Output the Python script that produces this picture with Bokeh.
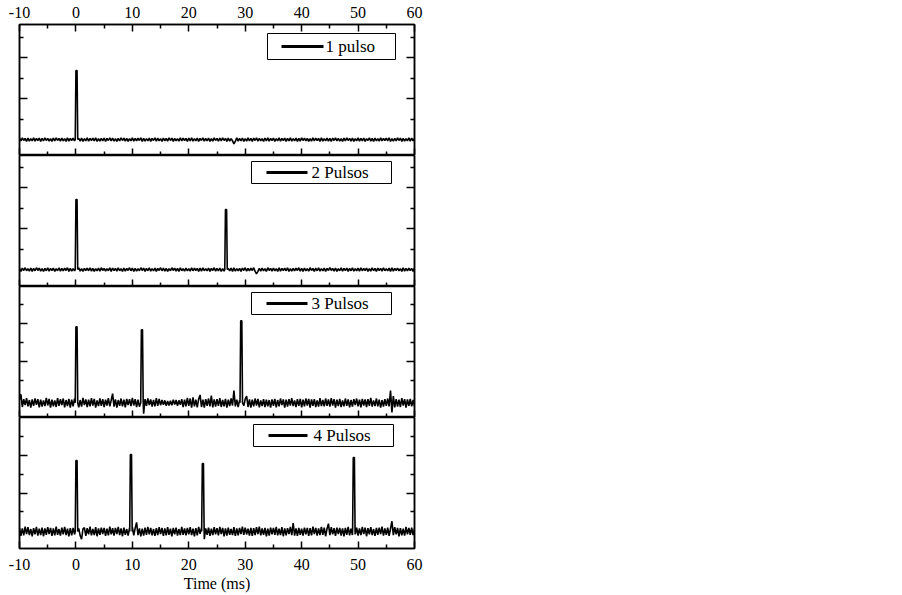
import numpy as np
from bokeh.plotting import figure
from bokeh.models import Range1d, LinearAxis, FixedTicker, BoxAnnotation, Label
from bokeh.layouts import column
from bokeh.embed import file_html
from bokeh.resources import INLINE

# ---------------- data ----------------
X_TICKS = [-10, 0, 10, 20, 30, 40, 50, 60]
X_TICK_LABELS = ["-10", "0", "10", "20", "30", "40", "50", "60"]
X_MINOR = [-5, 5, 15, 25, 35, 45, 55]
Y_MAJOR = [2, 4]
Y_MINOR = [1, 3, 5]
X_LABEL = "Time (ms)"
SERIES = ["1 pulso", "2 Pulsos", "3 Pulsos", "4 Pulsos"]

T_START = -10.0   # ms, first baseline sample
T_STEP = 0.25     # ms between baseline samples

# baseline level of each trace (arbitrary units)
BASE = [0.0, 0.0, -0.18, -0.05]

# pulse positions (ms) and heights (arbitrary units)
PEAK_T1 = [0.1]
PEAK_H1 = [3.38]
PEAK_T2 = [0.1, 26.6]
PEAK_H2 = [3.43, 2.94]
PEAK_T3 = [0.1, 11.7, 29.3]
PEAK_H3 = [3.84, 3.68, 4.16]
PEAK_T4 = [0.1, 9.75, 22.5, 49.25]
PEAK_H4 = [3.73, 4.05, 3.57, 3.89]

# baseline noise, one value every 0.25 ms from -10 to 60 ms (units given by NOISE_UNIT)
NOISE_UNIT = [0.015, 0.015, 0.016, 0.016]
NOISE1 = [5, -4, 6, -3, 4, -6, 5, -5, 3, -4, 6, -5, 4, -3, 5, -6, 4, -4, 6, -3,
          4, -5, 3, -6, 5, -4, 6, -3, 4, -5, 5, -4, 3, -6, 6, -5, 4, -3, 5, -4,
          6, -3, 4, -5, 5, -6, 3, -4, 6, -5, 4, -3, 5, -4, 6, -6, 3, -5, 4, -4,
          5, -6, 4, -3, 6, -4, 5, -5, 3, -6, 4, -4, 6, -3, 5, -5, 4, -6, 3, -4,
          6, -5, 4, -4, 5, -3, 6, -6, 4, -5, 3, -4, 5, -6, 4, -3, 6, -5, 5, -4,
          3, -6, 5, -4, 4, -5, 6, -3, 5, -6, 4, -4, 3, -5, 6, -4, 5, -3, 4, -6,
          5, -4, 6, -5, 3, -4, 5, -6, 4, -3, 6, -5, 4, -4, 5, -6, 3, -5, 6, -3,
          4, -5, 5, -4, 6, -3, 4, -6, 5, -5, 3, -4, -14, -6, 6, -5, 4, -4, 5, -6,
          3, -5, 6, -4, 4, -6, 5, -3, 6, -5, 4, -4, 3, -6, 5, -4, 6, -5, 4, -3,
          5, -6, 3, -4, 6, -5, 4, -3, 5, -6, 4, -4, 6, -5, 3, -4, 5, -6, 4, -5,
          6, -3, 5, -4, 4, -6, 3, -5, 6, -4, 5, -3, 4, -6, 6, -5, 3, -4, 5, -5,
          4, -6, 5, -3, 6, -4, 4, -5, 3, -6, 5, -4, 6, -3, 4, -5, 5, -6, 3, -4,
          6, -5, 4, -4, 5, -6, 3, -3, 6, -5, 4, -6, 5, -4, 3, -5, 6, -4, 4, -3,
          5, -4, 6, -6, 3, -5, 4, -4, 6, -3, 5, -6, 4, -5, 3, -4, 6, -5, 5, -4,
          4]
NOISE2 = [4, -6, 5, -3, 6, -4, 3, -5, 5, -6, 4, -4, 6, -3, 5, -5, 3, -6, 4, -4,
          6, -5, 4, -3, 5, -6, 3, -4, 6, -5, 4, -4, 5, -3, 6, -6, 4, -5, 3, -4,
          5, -4, 6, -5, 3, -6, 4, -3, 5, -4, 6, -5, 4, -6, 3, -4, 5, -5, 6, -3,
          4, -5, 3, -4, 6, -6, 5, -3, 4, -5, 6, -4, 3, -6, 5, -5, 4, -3, 6, -4,
          5, -6, 4, -5, 3, -4, 6, -3, 5, -6, 4, -4, 6, -5, 3, -4, 5, -6, 4, -3,
          6, -4, 5, -5, 4, -6, 3, -4, 6, -3, 5, -5, 4, -6, 6, -4, 3, -5, 5, -4,
          3, -5, 6, -4, 5, -3, 4, -6, 5, -5, 6, -4, 3, -4, 5, -6, 4, -3, 6, -5,
          4, -4, 5, -6, 3, -5, 6, -3, 4, -4, 5, -6, 6, -5, 3, -4, 4, -6, 5, -3,
          6, -5, 4, -4, 5, -3, 6, -6, -14, -6, 4, -5, 5, -4, 3, -6, 6, -3, 4, -5,
          5, -4, 3, -6, 6, -5, 4, -3, 5, -4, 6, -6, 3, -5, 4, -4, 5, -3, 6, -5,
          4, -6, 5, -4, 3, -5, 6, -3, 4, -6, 5, -4, 6, -5, 3, -4, 5, -6, 4, -3,
          6, -3, 4, -5, 5, -6, 3, -4, 6, -5, 4, -3, 5, -6, 4, -4, 6, -5, 3, -4,
          5, -5, 6, -4, 4, -3, 5, -6, 3, -5, 6, -4, 4, -6, 5, -3, 4, -5, 6, -4,
          3, -4, 5, -6, 6, -5, 4, -3, 5, -4, 3, -6, 6, -5, 4, -4, 5, -3, 4, -6,
          5]
NOISE3 = [10, 28, -14, 12, -8, 15, -12, 9, -16, 11, -10, 14, -7, 12, -15, 10, -13, 8, -11, 16,
          -9, 13, -16, 10, -12, 8, -14, 15, -10, 12, -8, 14, -15, 9, -11, 13, -16, 10, -12, 14,
          -10, 12, -15, 9, -13, 16, -8, 11, -14, 10, -12, 15, -9, 13, -16, 8, -11, 14, -10, 12,
          -14, 10, -9, 15, -12, 8, 30, -13, 11, -16, 9, -10, 14, -12, 10, -15, 13, -8, 12, -11,
          16, -9, 12, -14, 10, -13, 8, -15, -36, 12, -10, 14, -8, 11, -13, 9, -12, 15, -10, 13,
          -8, 9, -7, 8, -10, 6, -9, 7, -8, 10, -6, 9, -10, 8, -7, 12, -14, 10, -12, 16,
          -10, 14, -16, 18, -12, 10, -15, 12, 26, -14, 10, -16, 12, -10, 14, -12, 24, -15, 11, -13,
          12, -10, 15, -14, 9, -12, 13, -16, 10, -11, 14, -9, 40, -12, 10, -14, 8, -12, 15, -10,
          12, 22, -14, 11, -16, 10, -12, 14, -9, 13, -15, 8, -11, 12, -14, 10, -12, 9, -16, 11,
          -10, 13, -15, 9, -12, 14, -8, 11, -16, 10, -13, 12, -9, 15, -11, 8, -14, 12, -10, 13,
          -15, 10, -12, 14, -9, 13, -16, 11, -10, 12, -14, 8, -13, 15, -11, 9, -12, 14, -10, 11,
          -13, 15, -9, 12, -16, 10, -11, 13, -14, 8, -12, 14, -10, 11, -15, 9, -13, 12, -8, 14,
          -12, 10, -15, 13, -9, 11, -14, 12, -10, 16, -13, 8, -11, 14, -12, 10, -16, 9, -13, 12,
          -10, 14, -12, 40, -32, 22, -15, 12, -13, 10, -14, 15, -9, 12, -16, 11, -10, 13, -12, 9,
          -11]
NOISE4 = [12, -15, 10, -13, 16, -9, 14, -12, 8, -16, 11, -10, 15, -14, 9, -12, 13, -16, 10, -11,
          14, -9, 12, -15, 10, -13, 16, -11, 8, -14, 13, -10, 15, -12, 9, -16, 11, -13, 12, -10,
          15, -12, 10, -14, -26, 9, 13, -15, 11, -10, 16, -13, 8, -12, 14, -16, 10, -11, 13, -9,
          12, -15, 9, -13, 16, -10, 11, -14, 12, -9, 15, -12, 10, -16, 13, -11, 8, -14, 12, -10,
          14, -13, 11, 30, -12, 10, -16, 9, -14, 13, -11, 15, -10, 12, -13, 8, -15, 11, -12, 14,
          -9, 12, -15, 10, -13, 14, -11, 9, -16, 12, -10, 13, -14, 8, -12, 15, -11, 10, -13, 12,
          -10, 14, -12, 9, -16, 11, -13, 15, -8, 12, -14, -26, 10, -11, 13, -15, 9, -12, 14, -10,
          11, -13, 15, -9, 12, -16, 10, -14, 13, -11, 8, -12, 14, -15, 10, -13, 12, -9, 16, -11,
          13, -10, 9, -14, 12, -15, 11, -12, 14, -9, 16, -13, 10, -11, 12, -16, 9, -14, 13, -10,
          12, -11, 15, -13, 9, -12, 14, -16, 10, -13, 11, -9, 15, -12, 28, -14, 10, -15, 12, -11,
          9, -14, 13, -10, 12, -15, 11, -13, 16, -9, 12, -14, 10, -12, 15, -11, 13, -16, 9, 26,
          -12, 14, -10, 11, -15, 13, -9, 12, -14, 10, -16, 12, -11, 15, -13, 9, -12, 14, -10, 13,
          -14, 10, -12, 15, -9, 13, -16, 11, -10, 14, -12, 8, -15, 12, -11, 13, -9, 16, -14, 10,
          -11, 13, -15, 9, 34, -12, 14, -10, 12, -16, 11, -13, 9, -14, 15, -10, 12, -11, 13, -12,
          10]

# visible y window of each panel (arbitrary units)
Y_RANGES = [(-0.78, 5.64), (-0.83, 5.59), (-0.96, 5.97), (-0.96, 6.03)]

NOISES = [NOISE1, NOISE2, NOISE3, NOISE4]
PEAK_TS = [PEAK_T1, PEAK_T2, PEAK_T3, PEAK_T4]
PEAK_HS = [PEAK_H1, PEAK_H2, PEAK_H3, PEAK_H4]

# ---------------- style / layout ----------------
FONT = "Liberation Serif"
FRAME_W = 395
FRAME_HS = [131, 131, 131, 131]
BORDER_L = 19
BORDER_R = 10
BORDER_T = 24
PEAK_BASE_HW = 0.22  # half width of drawn pulse at its foot, ms
PEAK_TOP_HW = 0.1    # half width of drawn pulse at its top, ms
# legend geometry per panel in frame pixels:
# box left, box right, box top offset, box bottom offset, line x0, line x1, text x, centre offset
LEG = [(248, 376, 9, 35, 262, 304, 306, 22),
       (232, 372, 6, 28, 247, 288, 292, 17),
       (232, 372, 6, 28, 247, 288, 292, 17),
       (234, 374, 7, 29, 249, 288, 294, 18)]


def build_trace(noise, unit, base, pts, phs):
    t = T_START + T_STEP * np.arange(len(noise))
    y = base + np.asarray(noise, dtype=float) * unit
    keep = np.ones(len(t), dtype=bool)
    for tp in pts:
        keep &= np.abs(t - tp) >= PEAK_BASE_HW
    xs = list(t[keep])
    ys = list(y[keep])
    for tp, hp in zip(pts, phs):
        xs += [tp - PEAK_BASE_HW, tp - PEAK_TOP_HW, tp + PEAK_TOP_HW, tp + PEAK_BASE_HW]
        ys += [base, hp, hp, base]
    order = np.argsort(xs, kind="stable")
    return np.asarray(xs)[order], np.asarray(ys)[order]


def style_axis(ax, major_in, minor_in, labels):
    ax.major_tick_in = major_in
    ax.major_tick_out = 0
    ax.minor_tick_in = minor_in
    ax.minor_tick_out = 0
    ax.axis_line_width = 1.5
    ax.axis_line_color = "black"
    ax.major_tick_line_width = 1.5
    ax.minor_tick_line_width = 1.5
    ax.major_tick_line_color = "black"
    ax.minor_tick_line_color = "black"
    if labels:
        ax.major_label_text_font = FONT
        ax.major_label_text_font_size = "16px"
        ax.major_label_text_color = "black"
        ax.major_label_overrides = {t: s for t, s in zip(X_TICKS, X_TICK_LABELS)}
    else:
        ax.major_label_text_font_size = "0px"
        ax.major_label_text_color = None
        ax.major_label_text_alpha = 0
        ax.major_label_standoff = 0


figs = []
n = len(SERIES)
for i in range(n):
    fh = FRAME_HS[i]
    p = figure(frame_width=FRAME_W, frame_height=fh,
               x_range=Range1d(X_TICKS[0], X_TICKS[-1]),
               y_range=Range1d(*Y_RANGES[i]),
               x_axis_location=None, y_axis_location=None,
               output_backend="svg", toolbar_location=None,
               min_border=0, min_border_left=BORDER_L, min_border_right=BORDER_R,
               min_border_top=BORDER_T if i == 0 else 0)
    p.grid.grid_line_color = None
    p.outline_line_color = "black"
    p.outline_line_width = 1.5
    p.outline_line_alpha = 1.0
    p.background_fill_color = "white"
    p.border_fill_color = "white"

    # x axes
    if i == 0:
        top = LinearAxis(ticker=FixedTicker(ticks=X_TICKS, minor_ticks=X_MINOR))
        style_axis(top, 7, 4, True)
        top.major_label_standoff = 7
        p.add_layout(top, "above")
    bot = LinearAxis(ticker=FixedTicker(ticks=X_TICKS, minor_ticks=X_MINOR))
    style_axis(bot, 7, 4, i == n - 1)
    if i == n - 1:
        bot.major_label_standoff = 10
        bot.axis_label = X_LABEL
        bot.axis_label_text_font = FONT
        bot.axis_label_text_font_size = "16px"
        bot.axis_label_text_font_style = "normal"
        bot.axis_label_text_color = "black"
        bot.axis_label_standoff = 2
    p.add_layout(bot, "below")

    # y axes (no labels)
    for side in ("left", "right"):
        ya = LinearAxis(ticker=FixedTicker(ticks=Y_MAJOR, minor_ticks=Y_MINOR))
        style_axis(ya, 8, 4, False)
        p.add_layout(ya, side)

    xs, ys = build_trace(NOISES[i], NOISE_UNIT[i], BASE[i], PEAK_TS[i], PEAK_HS[i])
    p.line(xs, ys, line_color="black", line_width=1.6)

    # legend
    bl, br, bt, bb, lx0, lx1, tx, tc = LEG[i]
    p.add_layout(BoxAnnotation(left=bl, right=br, top=fh - bt, bottom=fh - bb,
                               left_units="screen", right_units="screen",
                               top_units="screen", bottom_units="screen",
                               fill_color="white", fill_alpha=1.0,
                               line_color="black", line_alpha=1.0, line_width=1))
    p.add_layout(BoxAnnotation(left=lx0, right=lx1, top=fh - tc + 1.5, bottom=fh - tc - 1.5,
                               left_units="screen", right_units="screen",
                               top_units="screen", bottom_units="screen",
                               fill_color="black", fill_alpha=1.0,
                               line_color="black", line_alpha=1.0, line_width=0))
    p.add_layout(Label(x=tx, y=fh - tc, x_units="screen", y_units="screen",
                       text=SERIES[i], text_font=FONT, text_font_size="17px",
                       text_baseline="middle", text_align="left", text_color="black"))
    figs.append(p)

layout = column(*figs, spacing=0)
open("out.html", "w").write(file_html(layout, INLINE))
